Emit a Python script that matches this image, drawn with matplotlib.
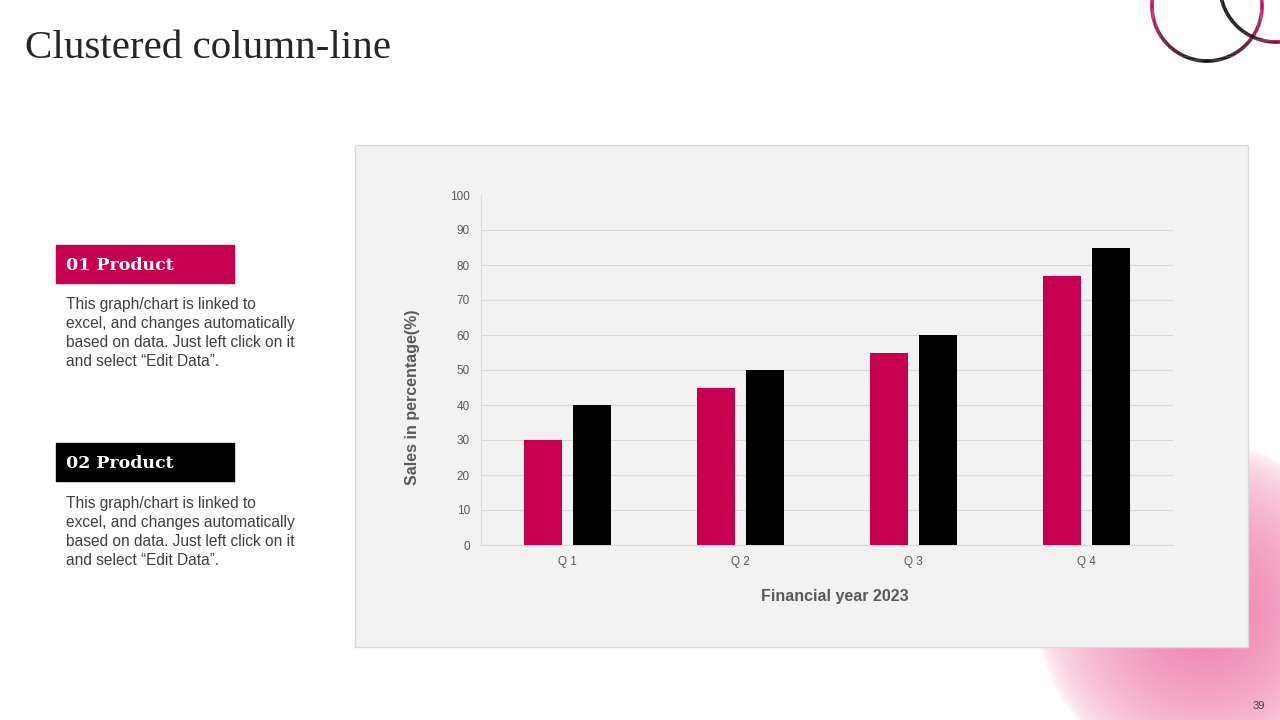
import numpy as np
import matplotlib
matplotlib.use("Agg")
import matplotlib.pyplot as plt
from matplotlib.patches import Rectangle
from matplotlib.collections import LineCollection
from matplotlib.colors import to_rgb

# data
quarters = ["Q 1", "Q 2", "Q 3", "Q 4"]
product_01 = [30, 45, 55, 77]
product_02 = [40, 50, 60, 85]
y_ticks = [0, 10, 20, 30, 40, 50, 60, 70, 80, 90, 100]

PINK = "#C6004F"
BLACK = "#000000"
GREY_TXT = "#595959"
BODY = ("This graph/chart is linked to\nexcel, and changes automatically\n"
        "based on data. Just left click on it\nand select \u201cEdit Data\u201d.")


def gradient_circle(ax, cx, cy, r, col_fn):
    """draw a ring whose colour changes with the angle"""
    t = np.linspace(0, 2 * np.pi, 361)
    x = cx + r * np.cos(t)
    y = cy + r * np.sin(t)
    pts = np.array([x, y]).T.reshape(-1, 1, 2)
    segs = np.concatenate([pts[:-1], pts[1:]], axis=1)
    p = np.array(to_rgb("#C8005A"))
    k = np.array(to_rgb("#000000"))
    cols = []
    for a in t[:-1]:
        w = col_fn(a)
        cols.append(p * (1 - w) + k * w)
    lc = LineCollection(segs, colors=cols, linewidths=2.6, zorder=3)
    ax.add_collection(lc)


fig = plt.figure(figsize=(12.8, 7.2), dpi=100)
bg = fig.add_axes([0, 0, 1, 1])
bg.set_xlim(0, 1280)
bg.set_ylim(720, 0)
bg.axis("off")

# soft pink blob at bottom right
gx, gy = np.meshgrid(np.linspace(1000, 1280, 300), np.linspace(430, 720, 300))
dist = np.sqrt((gx - 1205) ** 2 + (gy - 612) ** 2) / 168
alpha = np.clip(1 - dist, 0, 1) ** 0.5
img = np.zeros((300, 300, 4))
img[..., :3] = to_rgb("#EE6FA2")
img[..., 3] = alpha * 0.9
bg.imshow(img, extent=(1000, 1280, 720, 430), zorder=0, interpolation="bilinear")
bg.set_xlim(0, 1280)
bg.set_ylim(720, 0)
bg.set_aspect("auto")

# rings at top right (y grows downward here)
gradient_circle(bg, 1207, 6, 55, lambda a: np.clip(np.sin(a), 0, 1) ** 1.5)
gradient_circle(bg, 1276, -14, 56, lambda a: np.clip(-np.cos(a) + 0.3, 0, 1))

# title
bg.text(25, 48, "Clustered column-line", fontsize=29.5, family="Liberation Serif",
        color="#262626", va="center", ha="left")

# left side boxes
bg.add_patch(Rectangle((56, 245), 178, 38, color=PINK, zorder=2))
bg.text(66, 265, "01 Product", fontsize=12.5, family="DejaVu Serif", weight="bold",
        color="white", va="center", zorder=3)
bg.text(66, 297, BODY, fontsize=11.2, family="Liberation Sans", color="#404040",
        va="top", linespacing=1.34)

bg.add_patch(Rectangle((56, 443), 178, 38, color=BLACK, zorder=2))
bg.text(66, 463, "02 Product", fontsize=12.5, family="DejaVu Serif", weight="bold",
        color="white", va="center", zorder=3)
bg.text(66, 496, BODY, fontsize=11.2, family="Liberation Sans", color="#404040",
        va="top", linespacing=1.34)

# chart panel
bg.add_patch(Rectangle((355, 145), 893, 502, facecolor="#F2F2F2",
                       edgecolor="#D9D9D9", linewidth=1, zorder=4))

bg.text(1265, 706, "39", fontsize=8, family="Liberation Sans", color="#404040",
        ha="right", va="center")

# bar chart
ax = fig.add_axes([481 / 1280, 1 - 545 / 720, 692 / 1280, 350 / 720])
ax.set_facecolor("none")
ax.set_zorder(5)
x = np.arange(len(quarters))
w = 0.225
ax.bar(x - 0.1416, product_01, width=w, color=PINK, zorder=3)
ax.bar(x + 0.1416, product_02, width=w, color=BLACK, zorder=3)
ax.set_xlim(-0.5, 3.5)
ax.set_ylim(0, 100)
ax.set_yticks(y_ticks)
ax.set_xticks(x)
ax.set_xticklabels(quarters)
ax.yaxis.grid(True, color="#D9D9D9", linewidth=0.8, zorder=0)
ax.get_ygridlines()[-1].set_visible(False)
for s in ["top", "right"]:
    ax.spines[s].set_visible(False)
ax.spines["left"].set_color("#D9D9D9")
ax.spines["bottom"].set_color("#D9D9D9")
ax.tick_params(length=0, labelsize=8.5, labelcolor=GREY_TXT, pad=8)
for lab in ax.get_xticklabels() + ax.get_yticklabels():
    lab.set_family("Liberation Sans")
ax.set_ylabel("Sales in percentage(%)", fontsize=11.5, weight="bold",
              color=GREY_TXT, family="Liberation Sans")
ax.yaxis.set_label_coords(-0.088, 0.423)
ax.set_xlabel("Financial year 2023", fontsize=11.5, weight="bold",
              color=GREY_TXT, family="Liberation Sans")
ax.xaxis.set_label_coords(0.5116, -0.126)

fig.savefig("out.png", dpi=100)
